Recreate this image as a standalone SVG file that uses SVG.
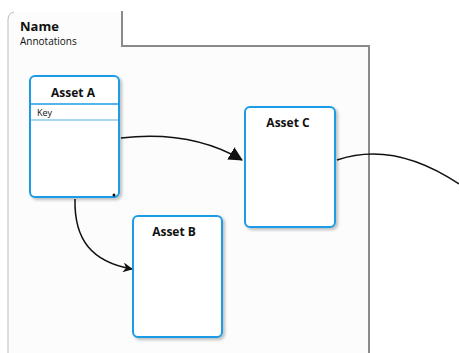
<svg xmlns="http://www.w3.org/2000/svg" width="459" height="353" viewBox="0 0 459 353">
<defs>
<style>
.t{font-family:"Open Sans","Liberation Sans",sans-serif;fill:#111;}
.b{font-weight:bold;font-size:12px;text-anchor:middle;}
.box{fill:#fff;stroke:#1d9be6;stroke-width:2;}
.conn{fill:none;stroke:#111;stroke-width:1.5;}
</style>
<marker id="ah" markerWidth="10" markerHeight="10" refX="9" refY="5" orient="auto" markerUnits="userSpaceOnUse">
<path d="M0,0 L10,5 L0,10 L3,5 Z" fill="#111"/>
</marker>
<marker id="ah2" markerWidth="14" markerHeight="14" refX="13" refY="7" orient="auto" markerUnits="userSpaceOnUse">
<path d="M0,0 L14,7 L0,14 Z" fill="#111"/>
</marker>
<filter id="sh" x="-10%" y="-10%" width="130%" height="130%">
<feDropShadow dx="2" dy="2" stdDeviation="1.5" flood-color="#000" flood-opacity="0.25"/>
</filter>
</defs>
<rect width="459" height="353" fill="#fff"/>
<g id="container">
<path d="M8,353 L8,20 Q8,12 14,12 L122,12 L122,46 L369,46 L369,353 Z" fill="#fcfcfc" stroke="none"/>
<path d="M8,353 L8,20 Q8,13 14,12" fill="none" stroke="#bbb" stroke-width="1"/>
<path d="M122,11 L122,46 L369,46 L369,353" fill="none" stroke="#8a8a8a" stroke-width="2"/>
<text class="t" x="20" y="31" font-size="13" font-weight="bold">Name</text>
<text class="t" x="20" y="45" font-size="10">Annotations</text>
</g>
<g id="connectors">
<path class="conn" d="M121,138 C175,132 215,144 242,160" marker-end="url(#ah2)"/>
<path class="conn" d="M75,199 C74,240 92,262 132,269" marker-end="url(#ah)"/>
<path class="conn" d="M337,160 C378,146 420,158 459,184"/>
</g>
<g id="assetA">
<rect class="box" x="30" y="76" width="89" height="121" rx="5" stroke-width="3" filter="url(#sh)"/>
<line x1="31" y1="104" x2="118" y2="104" stroke="#1d9be6" stroke-width="1.5"/>
<line x1="31" y1="120" x2="118" y2="120" stroke="#8cc8ee" stroke-width="1.5"/>
<text class="t b" x="73" y="97">Asset A</text>
<text class="t" x="37" y="116" font-size="9">Key</text>
<circle cx="114" cy="195" r="1.5" fill="#111"/>
</g>
<g id="assetB">
<rect class="box" x="133" y="216" width="89" height="121" rx="5" filter="url(#sh)"/>
<text class="t b" x="174" y="236">Asset B</text>
</g>
<g id="assetC">
<rect class="box" x="245" y="107" width="90" height="120" rx="5" filter="url(#sh)"/>
<text class="t b" x="288" y="127">Asset C</text>
</g>
</svg>
